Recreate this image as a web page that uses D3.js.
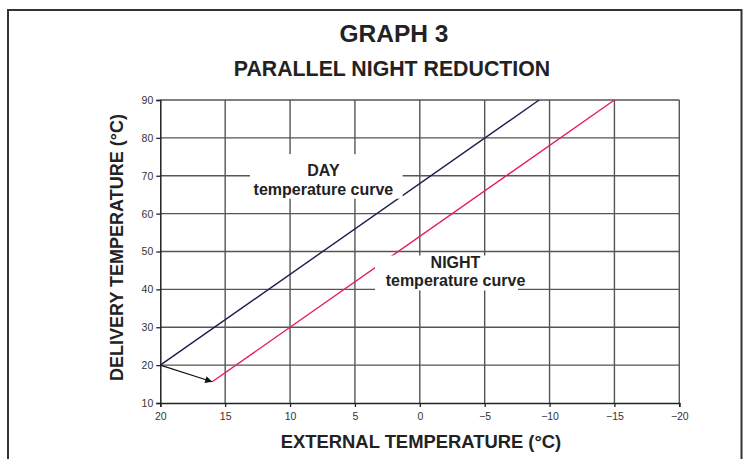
<!DOCTYPE html>
<html><head><meta charset="utf-8">
<script src="https://cdn.jsdelivr.net/npm/d3@7"></script>
<style>
body{margin:0;background:#fff;}
svg{display:block;font-family:"Liberation Sans",Arial,sans-serif;}
</style></head>
<body><svg id="c" width="746" height="459"></svg>
<script>
// ---- data ----
const xTicks = [20, 15, 10, 5, 0, -5, -10, -15, -20];
const yTicks = [10, 20, 30, 40, 50, 60, 70, 80, 90];
const dayCurve = [[20, 20], [-9.2, 90]];     // [external °C, delivery °C]
const nightCurve = [[16, 15.6], [-15, 90]];
const reductionArrow = [[20, 20], [16, 15.6]];
const titleText = "GRAPH 3";
const subtitleText = "PARALLEL NIGHT REDUCTION";
const xTitle = "EXTERNAL TEMPERATURE (°C)";
const yTitle = "DELIVERY TEMPERATURE (°C)";
const dayLabel = ["DAY", "temperature curve"];
const nightLabel = ["NIGHT", "temperature curve"];

const svg = d3.select("#c");
const x = d3.scaleLinear().domain([20, -20]).range([160.3, 679.3]);
const y = d3.scaleLinear().domain([10, 90]).range([403, 100]);

// outer frame
svg.append("rect").attr("x", 8).attr("y", 10).attr("width", 733.5).attr("height", 470)
  .attr("fill", "none").attr("stroke", "#333").attr("stroke-width", 2);

// titles
svg.append("text").attr("x", 394).attr("y", 42).attr("text-anchor", "middle")
  .attr("font-size", 24.5).attr("font-weight", "bold").attr("fill", "#222").text(titleText);
svg.append("text").attr("x", 392).attr("y", 75.7).attr("text-anchor", "middle")
  .attr("font-size", 21.3).attr("font-weight", "bold").attr("fill", "#222").text(subtitleText);

// grid
const g = svg.append("g");
g.selectAll(".vg").data(xTicks.slice(1)).enter().append("line")
  .attr("x1", d => x(d)).attr("x2", d => x(d)).attr("y1", y(90)).attr("y2", y(10))
  .attr("stroke", "#555").attr("stroke-width", 1.4);
g.selectAll(".hg").data(yTicks.slice(1)).enter().append("line")
  .attr("x1", x(20)).attr("x2", x(-20)).attr("y1", d => y(d)).attr("y2", d => y(d))
  .attr("stroke", "#555").attr("stroke-width", 1.4);

// axes
const xAxis = d3.axisBottom(x).tickValues(xTicks).tickSize(4).tickPadding(6).tickFormat(d3.format("d"));
const yAxis = d3.axisLeft(y).tickValues(yTicks).tickSize(4).tickPadding(3).tickFormat(d3.format("d"));
const xa = svg.append("g").attr("transform", `translate(0,${y(10)})`).call(xAxis);
const ya = svg.append("g").attr("transform", `translate(${x(20)},0)`).call(yAxis);
[xa, ya].forEach(a => {
  a.select(".domain").attr("stroke", "#222").attr("stroke-width", 1.5);
  a.selectAll(".tick line").attr("stroke", "#222").attr("stroke-width", 1.3);
  a.selectAll(".tick text").attr("font-size", 10.5).attr("fill", "#333")
    .attr("font-family", "'Liberation Sans',Arial,sans-serif");
});

// curves
const line = d3.line().x(d => x(d[0])).y(d => y(d[1]));
svg.append("path").datum(dayCurve).attr("d", line).attr("fill", "none")
  .attr("stroke", "#1c1c4e").attr("stroke-width", 1.4);
svg.append("path").datum(nightCurve).attr("d", line).attr("fill", "none")
  .attr("stroke", "#e6196a").attr("stroke-width", 1.4);

// arrow
svg.append("defs").append("marker").attr("id", "ah").attr("viewBox", "0 0 10 10")
  .attr("refX", 10).attr("refY", 5).attr("markerWidth", 9).attr("markerHeight", 7)
  .attr("markerUnits", "userSpaceOnUse").attr("orient", "auto")
  .append("path").attr("d", "M0,0L10,5L0,10z").attr("fill", "#111");
svg.append("path").datum(reductionArrow).attr("d", line).attr("fill", "none")
  .attr("stroke", "#111").attr("stroke-width", 1.1).attr("marker-end", "url(#ah)");

// label boxes (positioned in data space)
function label(x0, x1, y0, y1, cx, b1, b2, lines) {
  svg.append("rect").attr("x", x(x0)).attr("y", y(y0))
    .attr("width", x(x1) - x(x0)).attr("height", y(y1) - y(y0)).attr("fill", "#fff");
  const t = svg.append("text").attr("text-anchor", "middle").attr("font-weight", "bold")
    .attr("font-size", 16).attr("fill", "#222");
  t.append("tspan").attr("x", x(cx)).attr("y", y(y0) + b1).text(lines[0]);
  t.append("tspan").attr("x", x(cx)).attr("y", y(y0) + b2).text(lines[1]);
}
label(13.09, 1.32, 75.7, 63.95, 7.43, 21.7, 41, dayLabel);
label(3.45, -7.57, 48.94, 39.7, -2.75, 12.2, 30.2, nightLabel);

// axis titles
svg.append("text").attr("x", 421).attr("y", 448).attr("text-anchor", "middle")
  .attr("font-size", 18.4).attr("font-weight", "bold").attr("fill", "#222").text(xTitle);
svg.append("text").attr("transform", "translate(123,247.5) rotate(-90)").attr("text-anchor", "middle")
  .attr("font-size", 18).attr("font-weight", "bold").attr("fill", "#222").text(yTitle);
</script></body></html>
